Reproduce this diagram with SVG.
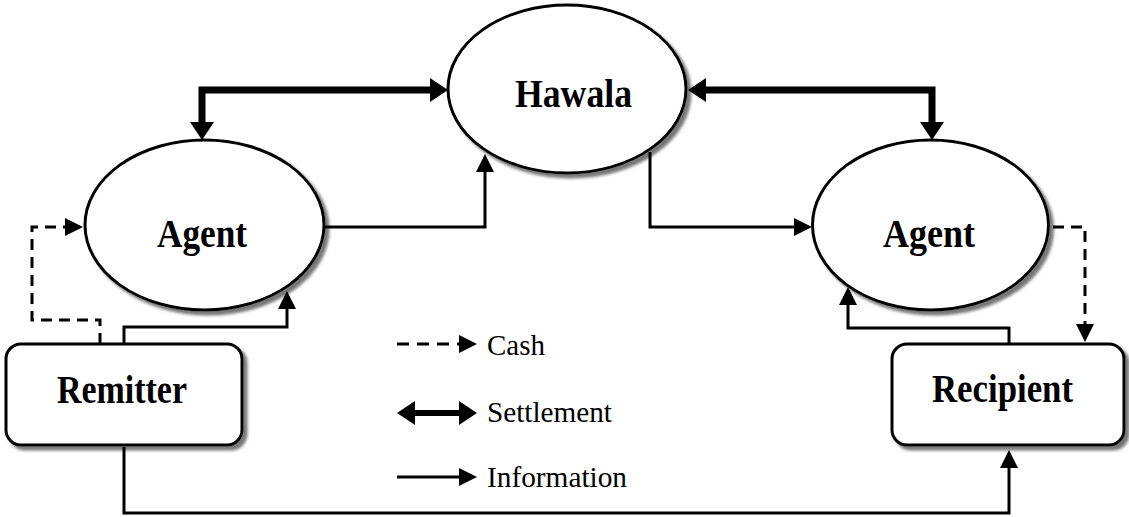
<svg xmlns="http://www.w3.org/2000/svg" width="1129" height="517" viewBox="0 0 1129 517">
<style>
.node{fill:#fff;stroke:#000;stroke-width:3;filter:url(#shadow)}
.lbl{font-family:"Liberation Serif","Times New Roman",serif;font-weight:bold;font-size:40px;fill:#000;text-anchor:middle}
.leg{font-family:"Liberation Serif","Times New Roman",serif;font-size:30px;fill:#000}
.info{fill:none;stroke:#000;stroke-width:3;marker-end:url(#ia)}
.cash{fill:none;stroke:#000;stroke-width:3;stroke-dasharray:11,7;marker-end:url(#ia)}
.settle{fill:none;stroke:#000;stroke-width:7;marker-start:url(#sa);marker-end:url(#sa)}
</style>
<defs>
<filter id="shadow" x="-10%" y="-10%" width="125%" height="125%">
<feDropShadow dx="4" dy="4" stdDeviation="1.5" flood-color="#777"/>
</filter>
<marker id="ia" markerUnits="userSpaceOnUse" markerWidth="18" markerHeight="18" viewBox="0 0 18 18" refX="0" refY="9" orient="auto">
<path d="M0,0 L18,9 L0,18 z" fill="#000"/>
</marker>
<marker id="sa" markerUnits="userSpaceOnUse" markerWidth="18" markerHeight="24" viewBox="0 0 18 24" refX="0" refY="12" orient="auto-start-reverse">
<path d="M0,0 L18,12 L0,24 z" fill="#000"/>
</marker>
</defs>
<g id="hawala">
<ellipse class="node" cx="567" cy="89" rx="119" ry="84"/>
<text class="lbl" x="573.5" y="107" textLength="117" lengthAdjust="spacingAndGlyphs">Hawala</text>
</g>
<g id="agent-left">
<ellipse class="node" cx="204.5" cy="225" rx="119.5" ry="85"/>
<text class="lbl" x="202" y="247" textLength="90" lengthAdjust="spacingAndGlyphs">Agent</text>
</g>
<g id="agent-right">
<ellipse class="node" cx="930.5" cy="225" rx="118" ry="85"/>
<text class="lbl" x="929" y="247" textLength="92" lengthAdjust="spacingAndGlyphs">Agent</text>
</g>
<g id="remitter">
<rect class="node" x="6" y="344" width="236" height="101" rx="15" ry="15"/>
<text class="lbl" x="122" y="403" textLength="130" lengthAdjust="spacingAndGlyphs">Remitter</text>
</g>
<g id="recipient">
<rect class="node" x="892" y="344" width="232" height="101" rx="15" ry="15"/>
<text class="lbl" x="1002.5" y="402" textLength="141" lengthAdjust="spacingAndGlyphs">Recipient</text>
</g>
<g id="connectors">
<path class="settle" d="M202,122 L202,90 L430,90"/>
<path class="settle" d="M706,90 L932,90 L932,122"/>
<path class="info" d="M323,227 L485,227 L485,172"/>
<path class="info" d="M650,152 L650,227 L794,227"/>
<path class="info" d="M124,344 L124,327 L287,327 L287,309"/>
<path class="info" d="M1009,344 L1009,328 L848,328 L848,305"/>
<path class="info" d="M124,447 L124,513 L1009,513 L1009,468"/>
<path class="cash" d="M100,344 L100,320 L32,320 L32,227 L65,227"/>
<path class="cash" d="M1053,227 L1085,227 L1085,324"/>
</g>
<g id="legend">
<path class="cash" style="stroke-dasharray:12,8" d="M397,344 L459,344"/>
<text class="leg" x="487" y="355" textLength="58" lengthAdjust="spacingAndGlyphs">Cash</text>
<path class="settle" style="stroke-width:6" d="M415,413 L459,413"/>
<text class="leg" x="487" y="422" textLength="125" lengthAdjust="spacingAndGlyphs">Settlement</text>
<path class="info" d="M397,477 L459,477"/>
<text class="leg" x="487" y="487" textLength="140" lengthAdjust="spacingAndGlyphs">Information</text>
</g>
</svg>
